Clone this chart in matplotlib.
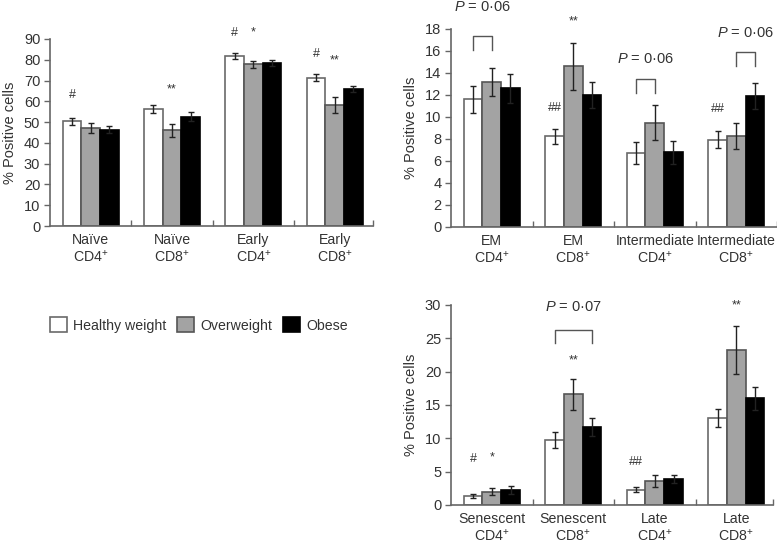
import numpy as np
import matplotlib
matplotlib.use("Agg")
import matplotlib.pyplot as plt
from matplotlib.patches import Patch

plt.rcParams["font.family"] = ["Liberation Sans", "DejaVu Sans"]
plt.rcParams["mathtext.fontset"] = "custom"
plt.rcParams["mathtext.rm"] = "Liberation Sans"
plt.rcParams["mathtext.it"] = "Liberation Sans:italic"
plt.rcParams["font.size"] = 10

# --- data ---
groups = ["Healthy weight", "Overweight", "Obese"]

labels1 = ["Naïve\nCD4$^{+}$", "Naïve\nCD8$^{+}$", "Early\nCD4$^{+}$", "Early\nCD8$^{+}$"]
healthy1 = [50.3, 56.2, 81.8, 71.4]
healthy1_err = [1.6, 2.0, 1.4, 1.8]
over1 = [47.1, 46.0, 77.8, 58.3]
over1_err = [2.5, 3.0, 1.6, 3.8]
obese1 = [46.3, 52.7, 78.3, 65.8]
obese1_err = [1.6, 2.4, 1.4, 1.5]

labels2 = ["EM\nCD4$^{+}$", "EM\nCD8$^{+}$", "Intermediate\nCD4$^{+}$", "Intermediate\nCD8$^{+}$"]
healthy2 = [11.6, 8.25, 6.7, 7.95]
healthy2_err = [1.2, 0.7, 1.0, 0.8]
over2 = [13.2, 14.6, 9.5, 8.25]
over2_err = [1.3, 2.1, 1.6, 1.2]
obese2 = [12.6, 12.0, 6.8, 11.9]
obese2_err = [1.3, 1.15, 1.05, 1.2]

labels3 = ["Senescent\nCD4$^{+}$", "Senescent\nCD8$^{+}$", "Late\nCD4$^{+}$", "Late\nCD8$^{+}$"]
healthy3 = [1.3, 9.75, 2.3, 13.1]
healthy3_err = [0.3, 1.2, 0.35, 1.35]
over3 = [2.0, 16.6, 3.6, 23.3]
over3_err = [0.5, 2.35, 0.85, 3.6]
obese3 = [2.3, 11.7, 3.9, 16.0]
obese3_err = [0.6, 1.35, 0.55, 1.7]

# significance marks: (group, bar, y, text)
marks1 = [(0, 0, 63, "#"), (1, 1, 65.5, "**"), (2, 0, 93, "#"), (2, 1, 93, "*"),
          (3, 0, 83, "#"), (3, 1, 79.5, "**")]
marks2 = [(1, 0, 10.8, "##"), (1, 1, 18.7, "**"), (3, 0, 10.7, "##")]
marks3 = [(0, 0, 6.9, "#"), (0, 1, 7.1, "*"), (1, 1, 21.7, "**"), (2, 0, 6.5, "##"),
          (3, 1, 29.9, "**")]

# brackets: (group, bar_a, bar_b, y_top, y_leg, y_text, text)
brackets2 = [(0, 0, 1, 17.4, 16.1, 20.0, "$P$ = 0·06"),
             (2, 0, 1, 13.5, 12.2, 15.3, "$P$ = 0·06"),
             (3, 1, 2, 15.9, 14.65, 17.6, "$P$ = 0·06")]
brackets3 = [(1, 0, 2, 26.3, 24.3, 29.75, "$P$ = 0·07")]

FILL = ["white", "#a3a3a3", "black"]
EDGE = ["#6a6a6a", "#555555", "black"]
AXC = "#666666"
TXC = "#333333"
BW = 0.23
OFFS = [-BW, 0, BW]


def panel(ax, labels, vals, errs, ylim, ystep, xlim, marks, brackets=()):
    x = np.arange(len(labels))
    for i, (v, e) in enumerate(zip(vals, errs)):
        ax.bar(x + OFFS[i], v, BW, color=FILL[i], edgecolor=EDGE[i], lw=1.2, zorder=2)
        ax.errorbar(x + OFFS[i], v, yerr=e, fmt="none", ecolor="#222222",
                    elinewidth=1.0, capsize=2.5, capthick=1.0, zorder=3)
    for g, b, y, t in marks:
        ax.text(g + OFFS[b], y, t, ha="center", va="center", fontsize=9, color=TXC)
    for g, a, b, yt, yl, ytx, t in brackets:
        xa, xb = g + OFFS[a], g + OFFS[b]
        ax.plot([xa, xa, xb, xb], [yl, yt, yt, yl], color="#555555", lw=1.0,
                clip_on=False)
        ax.text((xa + xb) / 2, ytx, t, ha="center", va="center", fontsize=10.5, color=TXC)
    ax.set_xlim(*xlim)
    ax.set_ylim(*ylim)
    ax.set_yticks(np.arange(ylim[0], ylim[1] + ystep / 2, ystep))
    ax.set_xticks(x)
    ax.set_xticklabels(labels, color=TXC, linespacing=1.1, fontsize=10.2)
    ax.set_xticks(list(x[:-1] + 0.5) + [xlim[1]], minor=True)
    ax.tick_params(axis="x", which="major", length=0, pad=5)
    ax.tick_params(axis="x", which="minor", direction="in", length=4, color=AXC, width=1.0)
    ax.tick_params(axis="y", length=4, color=AXC, width=1.0, labelcolor=TXC, pad=3,
                   labelsize=10.5)
    for s in ("top", "right"):
        ax.spines[s].set_visible(False)
    for s in ("left", "bottom"):
        ax.spines[s].set_color(AXC)
        ax.spines[s].set_linewidth(1.2)
    ax.set_ylabel("% Positive cells", color=TXC, labelpad=5, fontsize=10.5)


fig = plt.figure(figsize=(7.77, 5.44), dpi=100)
ax1 = fig.add_axes([50 / 777, 1 - 226 / 544, 323 / 777, 187 / 544])
ax2 = fig.add_axes([451 / 777, 1 - 227 / 544, 326 / 777, 198 / 544])
ax3 = fig.add_axes([451 / 777, 1 - 505 / 544, 322 / 777, 200 / 544])

panel(ax1, labels1, [healthy1, over1, obese1], [healthy1_err, over1_err, obese1_err],
      (0, 90), 10, (-0.5, 3.47), marks1)
panel(ax2, labels2, [healthy2, over2, obese2], [healthy2_err, over2_err, obese2_err],
      (0, 18), 2, (-0.5, 3.5), marks2, brackets2)
panel(ax3, labels3, [healthy3, over3, obese3], [healthy3_err, over3_err, obese3_err],
      (0, 30), 5, (-0.5, 3.45), marks3, brackets3)

handles = [Patch(facecolor=FILL[i], edgecolor=EDGE[i], lw=1.2) for i in range(3)]
fig.legend(handles, groups, loc="center left", bbox_to_anchor=(0.055, 0.4026),
           ncol=3, frameon=False, borderpad=0, handlelength=1.2, handleheight=1.2,
           handletextpad=0.45, columnspacing=0.75, fontsize=10.2, labelcolor=TXC)

fig.savefig("out.png", dpi=100)
